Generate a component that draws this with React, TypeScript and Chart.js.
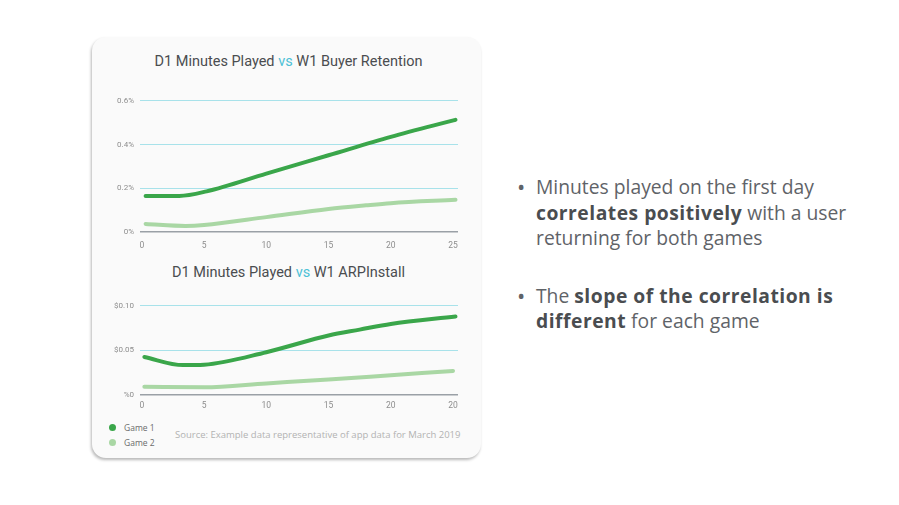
import React, { useEffect, useRef } from "react";
import { Chart, registerables } from "chart.js";
Chart.register(...registerables);

// ---- data ----
const xTickValues = [0, 5, 10, 15, 20, 25];
const xTickLabels1 = ["0", "5", "10", "15", "20", "25"];
const xTickLabels2 = ["0", "5", "10", "15", "20", "20"];

const yTickValues1 = [0, 0.2, 0.4, 0.6];
const yTickLabels1 = ["0%", "0.2%", "0.4%", "0.6%"];
const yTickValues2 = [0, 0.05, 0.1];
const yTickLabels2 = ["%0", "$0.05", "$0.10"];

// Chart 1: W1 Buyer Retention (%)
const retG1Minutes = [0.3, 3, 5.2, 10, 15, 20, 25.2];
const retG1Values = [0.165, 0.165, 0.186, 0.267, 0.351, 0.435, 0.513];
const retG2Minutes = [0.3, 3.5, 5, 10, 15, 18, 20, 25.2];
const retG2Values = [0.037, 0.028, 0.032, 0.068, 0.105, 0.122, 0.132, 0.147];

// Chart 2: W1 ARPInstall ($)
const arpG1Minutes = [0.2, 3.3, 5, 10, 15, 17.5, 20, 25.2];
const arpG1Values = [0.0426, 0.0335, 0.034, 0.048, 0.0667, 0.0733, 0.0797, 0.088];
const arpG2Minutes = [0.2, 5, 10, 15, 20, 25];
const arpG2Values = [0.0092, 0.0086, 0.013, 0.0174, 0.0222, 0.027];

const seriesNames = ["Game 1", "Game 2"];
const seriesColors = ["#3aa64a", "#a9d7a4"];

const GRID = "#a8e2ea";
const AXIS = "#9aa0a6";
const TICK = "#8d8d8d";
const FONT = "Roboto, 'Open Sans', sans-serif";
const TEXT_FONT = "'Open Sans', Roboto, sans-serif";

function toPoints(xs: number[], ys: number[]) {
  return xs.map((x, i) => ({ x, y: ys[i] }));
}

type Cfg = {
  g1x: number[]; g1y: number[]; g2x: number[]; g2y: number[];
  xLabels: string[]; yValues: number[]; yLabels: string[];
  yMax: number; padTop: number; xAxisH: number; xPad: number;
};

function LineChart({ cfg, style }: { cfg: Cfg; style: React.CSSProperties }) {
  const ref = useRef<HTMLCanvasElement>(null);
  useEffect(() => {
    if (!ref.current) return;
    const chart = new Chart(ref.current, {
      type: "line",
      data: {
        datasets: [
          {
            label: seriesNames[1],
            data: toPoints(cfg.g2x, cfg.g2y),
            borderColor: seriesColors[1],
            borderWidth: 4,
            pointRadius: 0,
            cubicInterpolationMode: "monotone",
            borderCapStyle: "round",
          },
          {
            label: seriesNames[0],
            data: toPoints(cfg.g1x, cfg.g1y),
            borderColor: seriesColors[0],
            borderWidth: 4,
            pointRadius: 0,
            cubicInterpolationMode: "monotone",
            borderCapStyle: "round",
          },
        ],
      },
      options: {
        animation: false,
        responsive: false,
        maintainAspectRatio: false,
        layout: { padding: { top: cfg.padTop, right: 12, left: 0, bottom: 0 } },
        plugins: { legend: { display: false }, tooltip: { enabled: false } },
        scales: {
          x: {
            type: "linear",
            min: -0.15,
            max: 25.4,
            grid: { display: false, drawTicks: false },
            border: { display: false },
            afterBuildTicks: (s: any) => {
              s.ticks = xTickValues.map((v) => ({ value: v }));
            },
            afterFit: (s: any) => {
              s.height = cfg.xAxisH;
            },
            ticks: {
              padding: cfg.xPad,
              color: TICK,
              font: { family: FONT, size: 8.5 },
              maxRotation: 0,
              autoSkip: false,
              callback: (_v: any, i: number) => cfg.xLabels[i],
            },
          },
          y: {
            type: "linear",
            min: 0,
            max: cfg.yMax,
            border: { display: false },
            grid: {
              drawTicks: false,
              color: (ctx: any) => (ctx.tick && ctx.tick.value === 0 ? AXIS : GRID),
              lineWidth: (ctx: any) => (ctx.tick && ctx.tick.value === 0 ? 1.5 : 1),
            },
            afterBuildTicks: (s: any) => {
              s.ticks = cfg.yValues.map((v) => ({ value: v }));
            },
            afterFit: (s: any) => {
              s.width = 40;
            },
            ticks: {
              padding: 6,
              color: TICK,
              font: { family: FONT, size: 8 },
              callback: (_v: any, i: number) => cfg.yLabels[i],
            },
          },
        },
      },
    } as any);
    return () => chart.destroy();
  }, []);
  const w = style.width as number;
  const h = style.height as number;
  return (
    <div style={{ position: "absolute", ...style }}>
      <canvas ref={ref} width={w} height={h} style={{ width: w, height: h }} />
    </div>
  );
}

const titleStyle: React.CSSProperties = {
  position: "absolute",
  left: 91,
  width: 395,
  textAlign: "center",
  fontFamily: FONT,
  fontSize: 14.5,
  color: "#4a4d50",
  whiteSpace: "nowrap",
  lineHeight: "18px",
};

const boldStyle: React.CSSProperties = { color: "#4a4d50", fontWeight: 700, letterSpacing: 0.5 };

export default function App() {
  return (
    <div
      style={{
        position: "absolute",
        left: 0,
        top: 0,
        width: 899,
        height: 505,
        background: "#ffffff",
        overflow: "hidden",
        fontFamily: FONT,
      }}
    >
      <div
        style={{
          position: "absolute",
          left: 92,
          top: 37,
          width: 389,
          height: 421,
          background: "#fafafa",
          borderRadius: 14,
          boxShadow: "-1px 2px 3px rgba(0,0,0,0.28)",
        }}
      />
      <div style={{ ...titleStyle, top: 53 }}>
        D1 Minutes Played <span style={{ color: "#4cc1d6" }}>vs</span> W1 Buyer Retention
      </div>
      <LineChart
        style={{ left: 100, top: 90, width: 370, height: 170 }}
        cfg={{
          g1x: retG1Minutes, g1y: retG1Values, g2x: retG2Minutes, g2y: retG2Values,
          xLabels: xTickLabels1, yValues: yTickValues1, yLabels: yTickLabels1,
          yMax: 0.6, padTop: 9, xAxisH: 28, xPad: 9,
        }}
      />
      <div style={{ ...titleStyle, top: 264 }}>
        D1 Minutes Played <span style={{ color: "#4cc1d6" }}>vs</span> W1 ARPInstall
      </div>
      <LineChart
        style={{ left: 100, top: 295, width: 370, height: 120 }}
        cfg={{
          g1x: arpG1Minutes, g1y: arpG1Values, g2x: arpG2Minutes, g2y: arpG2Values,
          xLabels: xTickLabels2, yValues: yTickValues2, yLabels: yTickLabels2,
          yMax: 0.1, padTop: 10, xAxisH: 20, xPad: 6,
        }}
      />
      {seriesNames.map((n, i) => (
        <div
          key={n}
          style={{
            position: "absolute",
            left: 109,
            top: 421 + i * 15,
            height: 12,
            display: "flex",
            alignItems: "center",
            fontSize: 8.5,
            fontFamily: TEXT_FONT,
            color: "#6a6a6a",
          }}
        >
          <span
            style={{
              display: "inline-block",
              width: 7,
              height: 7,
              borderRadius: "50%",
              background: seriesColors[i],
              marginRight: 8,
            }}
          />
          {n}
        </div>
      ))}
      <div
        style={{
          position: "absolute",
          left: 175,
          top: 428,
          fontSize: 9.5,
          fontFamily: TEXT_FONT,
          color: "#b2b2b2",
          whiteSpace: "nowrap",
        }}
      >
        Source: Example data representative of app data for March 2019
      </div>
      <div
        style={{
          position: "absolute",
          left: 517,
          top: 174,
          width: 375,
          fontSize: 19.3,
          fontFamily: TEXT_FONT,
          lineHeight: "25.5px",
          color: "#5f6368",
          whiteSpace: "nowrap",
        }}
      >
        <div style={{ display: "flex" }}>
          <span style={{ width: 19, flexShrink: 0, fontSize: 22, lineHeight: "25.5px" }}>•</span>
          <span>
            Minutes played on the first day
            <br />
            <span style={boldStyle}>correlates positively</span> with a user
            <br />
            returning for both games
          </span>
        </div>
        <div style={{ display: "flex", marginTop: 32 }}>
          <span style={{ width: 19, flexShrink: 0, fontSize: 22, lineHeight: "25.5px" }}>•</span>
          <span>
            The <span style={boldStyle}>slope of the correlation is</span>
            <br />
            <span style={boldStyle}>different</span> for each game
          </span>
        </div>
      </div>
    </div>
  );
}
